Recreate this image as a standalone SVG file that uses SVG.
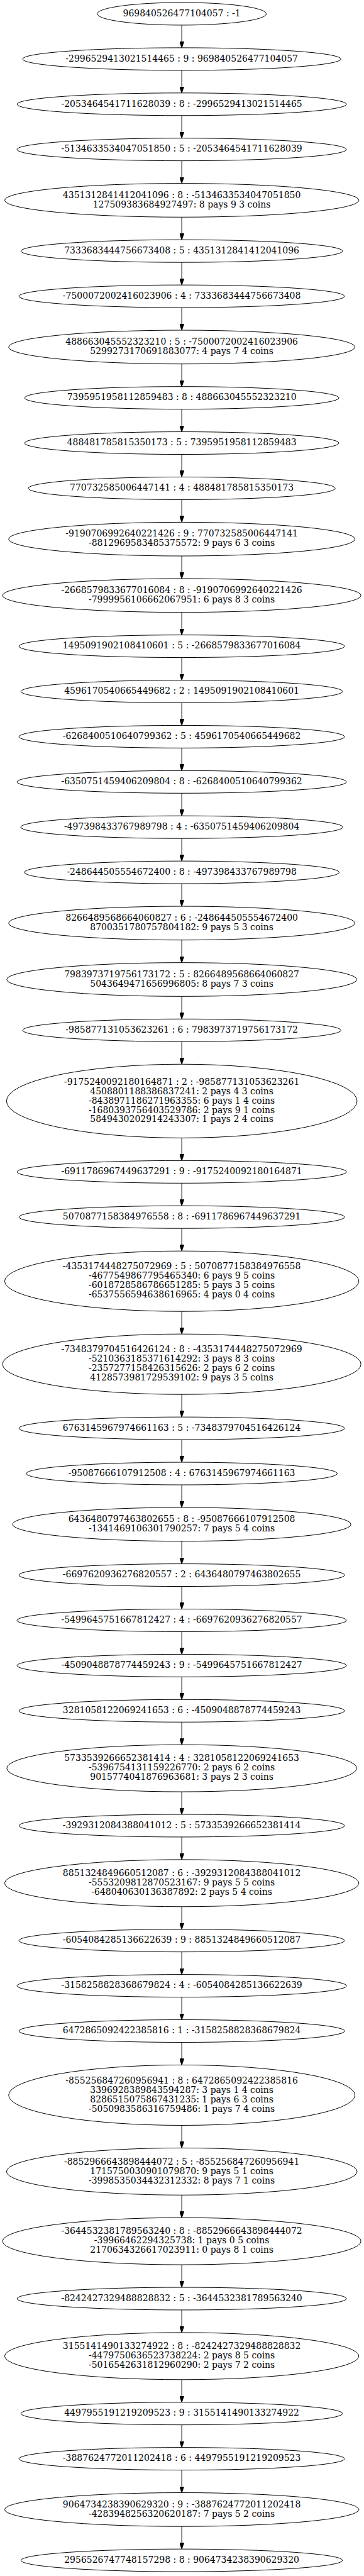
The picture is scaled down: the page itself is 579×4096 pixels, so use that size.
<svg xmlns="http://www.w3.org/2000/svg" width="579" height="4096" viewBox="0 0 579 4096">
<style>
.n ellipse{fill:none;stroke:#000;stroke-width:1}
.n text{font-family:"DejaVu Serif","Liberation Serif",serif;font-size:14px;text-anchor:middle;fill:#000}
.e path{fill:none;stroke:#000;stroke-width:1}
</style>
<defs>
<marker id="ah" markerUnits="userSpaceOnUse" viewBox="0 -3.5 10 7" refX="0" refY="0" markerWidth="10" markerHeight="7" orient="auto"><path d="M0,-3.5L10,0L0,3.5z" fill="#000" stroke="#000" stroke-width="1"/></marker>
</defs>
<rect width="579" height="4096" fill="#fff"/>
<g transform="scale(0.998667)">
<g class="e" id="edges" marker-end="url(#ah)">
<path d="M289.5,40V66" marker-end="url(#ah)"/>
<path d="M289.5,112V138" marker-end="url(#ah)"/>
<path d="M289.5,184V210" marker-end="url(#ah)"/>
<path d="M289.5,256V282" marker-end="url(#ah)"/>
<path d="M289.5,345.74V371.74" marker-end="url(#ah)"/>
<path d="M289.5,417.74V443.74" marker-end="url(#ah)"/>
<path d="M289.5,489.74V515.74" marker-end="url(#ah)"/>
<path d="M289.5,579.48V605.48" marker-end="url(#ah)"/>
<path d="M289.5,651.48V677.48" marker-end="url(#ah)"/>
<path d="M289.5,723.48V749.48" marker-end="url(#ah)"/>
<path d="M289.5,795.48V821.48" marker-end="url(#ah)"/>
<path d="M289.5,885.22V911.22" marker-end="url(#ah)"/>
<path d="M289.5,974.96V1000.96" marker-end="url(#ah)"/>
<path d="M289.5,1046.96V1072.96" marker-end="url(#ah)"/>
<path d="M289.5,1118.96V1144.96" marker-end="url(#ah)"/>
<path d="M289.5,1190.96V1216.96" marker-end="url(#ah)"/>
<path d="M289.5,1262.96V1288.96" marker-end="url(#ah)"/>
<path d="M289.5,1334.96V1360.96" marker-end="url(#ah)"/>
<path d="M289.5,1406.96V1432.96" marker-end="url(#ah)"/>
<path d="M289.5,1496.7V1522.7" marker-end="url(#ah)"/>
<path d="M289.5,1586.44V1612.44" marker-end="url(#ah)"/>
<path d="M289.5,1658.44V1684.44" marker-end="url(#ah)"/>
<path d="M289.5,1811.82V1837.82" marker-end="url(#ah)"/>
<path d="M289.5,1883.82V1909.82" marker-end="url(#ah)"/>
<path d="M289.5,1955.82V1981.82" marker-end="url(#ah)"/>
<path d="M289.5,2087.99V2113.99" marker-end="url(#ah)"/>
<path d="M289.5,2220.16V2246.16" marker-end="url(#ah)"/>
<path d="M289.5,2292.16V2318.16" marker-end="url(#ah)"/>
<path d="M289.5,2364.16V2390.16" marker-end="url(#ah)"/>
<path d="M289.5,2453.9V2479.9" marker-end="url(#ah)"/>
<path d="M289.5,2525.9V2551.9" marker-end="url(#ah)"/>
<path d="M289.5,2597.9V2623.9" marker-end="url(#ah)"/>
<path d="M289.5,2669.9V2695.9" marker-end="url(#ah)"/>
<path d="M289.5,2741.9V2767.9" marker-end="url(#ah)"/>
<path d="M289.5,2852.85V2878.85" marker-end="url(#ah)"/>
<path d="M289.5,2924.85V2950.85" marker-end="url(#ah)"/>
<path d="M289.5,3035.8V3061.8" marker-end="url(#ah)"/>
<path d="M289.5,3107.8V3133.8" marker-end="url(#ah)"/>
<path d="M289.5,3179.8V3205.8" marker-end="url(#ah)"/>
<path d="M289.5,3251.8V3277.8" marker-end="url(#ah)"/>
<path d="M289.5,3383.97V3409.97" marker-end="url(#ah)"/>
<path d="M289.5,3494.92V3520.92" marker-end="url(#ah)"/>
<path d="M289.5,3605.87V3631.87" marker-end="url(#ah)"/>
<path d="M289.5,3677.87V3703.87" marker-end="url(#ah)"/>
<path d="M289.5,3788.82V3814.82" marker-end="url(#ah)"/>
<path d="M289.5,3860.82V3886.82" marker-end="url(#ah)"/>
<path d="M289.5,3932.82V3958.82" marker-end="url(#ah)"/>
<path d="M289.5,4022.56V4048.56" marker-end="url(#ah)"/>
</g>
<g class="n" id="node1"><ellipse cx="289.5" cy="22" rx="134.6" ry="18"/><text x="289.5" y="25.75">969840526477104057 : -1</text></g>
<g class="n" id="node2"><ellipse cx="289.5" cy="94" rx="253.5" ry="18"/><text x="289.5" y="97.75">-2996529413021514465 : 9 : 969840526477104057</text></g>
<g class="n" id="node3"><ellipse cx="289.5" cy="166" rx="262.4" ry="18"/><text x="289.5" y="169.75">-2053464541711628039 : 8 : -2996529413021514465</text></g>
<g class="n" id="node4"><ellipse cx="289.5" cy="238" rx="262.4" ry="18"/><text x="289.5" y="241.75">-5134633534047051850 : 5 : -2053464541711628039</text></g>
<g class="n" id="node5"><ellipse cx="289.5" cy="318.87" rx="282.1" ry="26.87"/><text x="289.5" y="315.12">4351312841412041096 : 8 : -5134633534047051850</text><text x="289.5" y="330.12">127509383684927497: 8 pays 9 3 coins</text></g>
<g class="n" id="node6"><ellipse cx="289.5" cy="399.74" rx="256.1" ry="18"/><text x="289.5" y="403.49">7333683444756673408 : 5 : 4351312841412041096</text></g>
<g class="n" id="node7"><ellipse cx="289.5" cy="471.74" rx="259.3" ry="18"/><text x="289.5" y="475.49">-7500072002416023906 : 4 : 7333683444756673408</text></g>
<g class="n" id="node8"><ellipse cx="289.5" cy="552.61" rx="275.8" ry="26.87"/><text x="289.5" y="548.86">488663045552323210 : 5 : -7500072002416023906</text><text x="289.5" y="563.86">5299273170691883077: 4 pays 7 4 coins</text></g>
<g class="n" id="node9"><ellipse cx="289.5" cy="633.48" rx="250.3" ry="18"/><text x="289.5" y="637.23">7395951958112859483 : 8 : 488663045552323210</text></g>
<g class="n" id="node10"><ellipse cx="289.5" cy="705.48" rx="250.3" ry="18"/><text x="289.5" y="709.23">488481785815350173 : 5 : 7395951958112859483</text></g>
<g class="n" id="node11"><ellipse cx="289.5" cy="777.48" rx="244.5" ry="18"/><text x="289.5" y="781.23">770732585006447141 : 4 : 488481785815350173</text></g>
<g class="n" id="node12"><ellipse cx="289.5" cy="858.35" rx="275.8" ry="26.87"/><text x="289.5" y="854.6">-9190706992640221426 : 9 : 770732585006447141</text><text x="289.5" y="869.6">-8812969583485375572: 9 pays 6 3 coins</text></g>
<g class="n" id="node13"><ellipse cx="289.5" cy="948.09" rx="285.5" ry="26.87"/><text x="289.5" y="944.34">-2668579833677016084 : 8 : -9190706992640221426</text><text x="289.5" y="959.34">-7999956106662067951: 6 pays 8 3 coins</text></g>
<g class="n" id="node14"><ellipse cx="289.5" cy="1028.96" rx="259.3" ry="18"/><text x="289.5" y="1032.71">1495091902108410601 : 5 : -2668579833677016084</text></g>
<g class="n" id="node15"><ellipse cx="289.5" cy="1100.96" rx="256.1" ry="18"/><text x="289.5" y="1104.71">4596170540665449682 : 2 : 1495091902108410601</text></g>
<g class="n" id="node16"><ellipse cx="289.5" cy="1172.96" rx="259.3" ry="18"/><text x="289.5" y="1176.71">-6268400510640799362 : 5 : 4596170540665449682</text></g>
<g class="n" id="node17"><ellipse cx="289.5" cy="1244.96" rx="262.4" ry="18"/><text x="289.5" y="1248.71">-6350751459406209804 : 8 : -6268400510640799362</text></g>
<g class="n" id="node18"><ellipse cx="289.5" cy="1316.96" rx="256.6" ry="18"/><text x="289.5" y="1320.71">-497398433767989798 : 4 : -6350751459406209804</text></g>
<g class="n" id="node19"><ellipse cx="289.5" cy="1388.96" rx="250.8" ry="18"/><text x="289.5" y="1392.71">-248644505554672400 : 8 : -497398433767989798</text></g>
<g class="n" id="node20"><ellipse cx="289.5" cy="1469.83" rx="275.8" ry="26.87"/><text x="289.5" y="1466.08">8266489568664060827 : 6 : -248644505554672400</text><text x="289.5" y="1481.08">8700351780757804182: 9 pays 5 3 coins</text></g>
<g class="n" id="node21"><ellipse cx="289.5" cy="1559.57" rx="278.7" ry="26.87"/><text x="289.5" y="1555.82">7983973719756173172 : 5 : 8266489568664060827</text><text x="289.5" y="1570.82">5043649471656996805: 8 pays 7 3 coins</text></g>
<g class="n" id="node22"><ellipse cx="289.5" cy="1640.44" rx="253.5" ry="18"/><text x="289.5" y="1644.19">-985877131053623261 : 6 : 7983973719756173172</text></g>
<g class="n" id="node23"><ellipse cx="289.5" cy="1753.13" rx="279.2" ry="58.69"/><text x="289.5" y="1726.88">-9175240092180164871 : 2 : -985877131053623261</text><text x="289.5" y="1741.88">4508801188386837241: 2 pays 4 3 coins</text><text x="289.5" y="1756.88">-8438971186271963355: 6 pays 1 4 coins</text><text x="289.5" y="1771.88">-1680393756403529786: 2 pays 9 1 coins</text><text x="289.5" y="1786.88">5849430202914243307: 1 pays 2 4 coins</text></g>
<g class="n" id="node24"><ellipse cx="289.5" cy="1865.82" rx="262.4" ry="18"/><text x="289.5" y="1869.57">-6911786967449637291 : 9 : -9175240092180164871</text></g>
<g class="n" id="node25"><ellipse cx="289.5" cy="1937.82" rx="259.3" ry="18"/><text x="289.5" y="1941.57">5070877158384976558 : 8 : -6911786967449637291</text></g>
<g class="n" id="node26"><ellipse cx="289.5" cy="2039.91" rx="282.1" ry="48.085"/><text x="289.5" y="2021.16">-4353174448275072969 : 5 : 5070877158384976558</text><text x="289.5" y="2036.16">-4677549867795465340: 6 pays 9 5 coins</text><text x="289.5" y="2051.16">-6018728586786651285: 5 pays 3 5 coins</text><text x="289.5" y="2066.16">-6537556594638616965: 4 pays 0 4 coins</text></g>
<g class="n" id="node27"><ellipse cx="289.5" cy="2172.08" rx="285.5" ry="48.085"/><text x="289.5" y="2153.33">-7348379704516426124 : 8 : -4353174448275072969</text><text x="289.5" y="2168.33">-5210363185371614292: 3 pays 8 3 coins</text><text x="289.5" y="2183.33">-2357277158426315626: 2 pays 6 2 coins</text><text x="289.5" y="2198.33">4128573981729539102: 9 pays 3 5 coins</text></g>
<g class="n" id="node28"><ellipse cx="289.5" cy="2274.16" rx="259.3" ry="18"/><text x="289.5" y="2277.91">6763145967974661163 : 5 : -7348379704516426124</text></g>
<g class="n" id="node29"><ellipse cx="289.5" cy="2346.16" rx="247.7" ry="18"/><text x="289.5" y="2349.91">-95087666107912508 : 4 : 6763145967974661163</text></g>
<g class="n" id="node30"><ellipse cx="289.5" cy="2427.03" rx="269.5" ry="26.87"/><text x="289.5" y="2423.28">6436480797463802655 : 8 : -95087666107912508</text><text x="289.5" y="2438.28">-1341469106301790257: 7 pays 5 4 coins</text></g>
<g class="n" id="node31"><ellipse cx="289.5" cy="2507.9" rx="259.3" ry="18"/><text x="289.5" y="2511.65">-6697620936276820557 : 2 : 6436480797463802655</text></g>
<g class="n" id="node32"><ellipse cx="289.5" cy="2579.9" rx="262.4" ry="18"/><text x="289.5" y="2583.65">-5499645751667812427 : 4 : -6697620936276820557</text></g>
<g class="n" id="node33"><ellipse cx="289.5" cy="2651.9" rx="262.4" ry="18"/><text x="289.5" y="2655.65">-4509048878774459243 : 9 : -5499645751667812427</text></g>
<g class="n" id="node34"><ellipse cx="289.5" cy="2723.9" rx="259.3" ry="18"/><text x="289.5" y="2727.65">3281058122069241653 : 6 : -4509048878774459243</text></g>
<g class="n" id="node35"><ellipse cx="289.5" cy="2815.38" rx="278.7" ry="37.475"/><text x="289.5" y="2804.13">5733539266652381414 : 4 : 3281058122069241653</text><text x="289.5" y="2819.13">-5396754131159226770: 2 pays 6 2 coins</text><text x="289.5" y="2834.13">9015774041876963681: 3 pays 2 3 coins</text></g>
<g class="n" id="node36"><ellipse cx="289.5" cy="2906.85" rx="259.3" ry="18"/><text x="289.5" y="2910.6">-3929312084388041012 : 5 : 5733539266652381414</text></g>
<g class="n" id="node37"><ellipse cx="289.5" cy="2998.33" rx="282.1" ry="37.475"/><text x="289.5" y="2987.08">8851324849660512087 : 6 : -3929312084388041012</text><text x="289.5" y="3002.08">-5553209812870523167: 9 pays 5 5 coins</text><text x="289.5" y="3017.08">-648040630136387892: 2 pays 5 4 coins</text></g>
<g class="n" id="node38"><ellipse cx="289.5" cy="3089.8" rx="259.3" ry="18"/><text x="289.5" y="3093.55">-6054084285136622639 : 9 : 8851324849660512087</text></g>
<g class="n" id="node39"><ellipse cx="289.5" cy="3161.8" rx="262.4" ry="18"/><text x="289.5" y="3165.55">-3158258828368679824 : 4 : -6054084285136622639</text></g>
<g class="n" id="node40"><ellipse cx="289.5" cy="3233.8" rx="259.3" ry="18"/><text x="289.5" y="3237.55">6472865092422385816 : 1 : -3158258828368679824</text></g>
<g class="n" id="node41"><ellipse cx="289.5" cy="3335.89" rx="275.8" ry="48.085"/><text x="289.5" y="3317.14">-855256847260956941 : 8 : 6472865092422385816</text><text x="289.5" y="3332.14">3396928389843594287: 3 pays 1 4 coins</text><text x="289.5" y="3347.14">8286515075867431235: 1 pays 6 3 coins</text><text x="289.5" y="3362.14">-5050983586316759486: 1 pays 7 4 coins</text></g>
<g class="n" id="node42"><ellipse cx="289.5" cy="3457.45" rx="279.2" ry="37.475"/><text x="289.5" y="3446.2">-8852966643898444072 : 5 : -855256847260956941</text><text x="289.5" y="3461.2">1715750030901079870: 9 pays 5 1 coins</text><text x="289.5" y="3476.2">-3998535034432312332: 8 pays 7 1 coins</text></g>
<g class="n" id="node43"><ellipse cx="289.5" cy="3568.4" rx="285.5" ry="37.475"/><text x="289.5" y="3557.15">-3644532381789563240 : 8 : -8852966643898444072</text><text x="289.5" y="3572.15">-39966462294325738: 1 pays 0 5 coins</text><text x="289.5" y="3587.15">2170634326617023911: 0 pays 8 1 coins</text></g>
<g class="n" id="node44"><ellipse cx="289.5" cy="3659.87" rx="262.4" ry="18"/><text x="289.5" y="3663.62">-8242427329488828832 : 5 : -3644532381789563240</text></g>
<g class="n" id="node45"><ellipse cx="289.5" cy="3751.35" rx="282.1" ry="37.475"/><text x="289.5" y="3740.1">3155141490133274922 : 8 : -8242427329488828832</text><text x="289.5" y="3755.1">-4479750636523738224: 2 pays 8 5 coins</text><text x="289.5" y="3770.1">-5016542631812960290: 2 pays 7 2 coins</text></g>
<g class="n" id="node46"><ellipse cx="289.5" cy="3842.82" rx="256.1" ry="18"/><text x="289.5" y="3846.57">4497955191219209523 : 9 : 3155141490133274922</text></g>
<g class="n" id="node47"><ellipse cx="289.5" cy="3914.82" rx="259.3" ry="18"/><text x="289.5" y="3918.57">-3887624772011202418 : 6 : 4497955191219209523</text></g>
<g class="n" id="node48"><ellipse cx="289.5" cy="3995.69" rx="282.1" ry="26.87"/><text x="289.5" y="3991.94">9064734238390629320 : 9 : -3887624772011202418</text><text x="289.5" y="4006.94">-4283948256320620187: 7 pays 5 2 coins</text></g>
<g class="n" id="node49"><ellipse cx="289.5" cy="4076.56" rx="256.1" ry="18"/><text x="289.5" y="4080.31">2956526747748157298 : 8 : 9064734238390629320</text></g>
</g>
</svg>
